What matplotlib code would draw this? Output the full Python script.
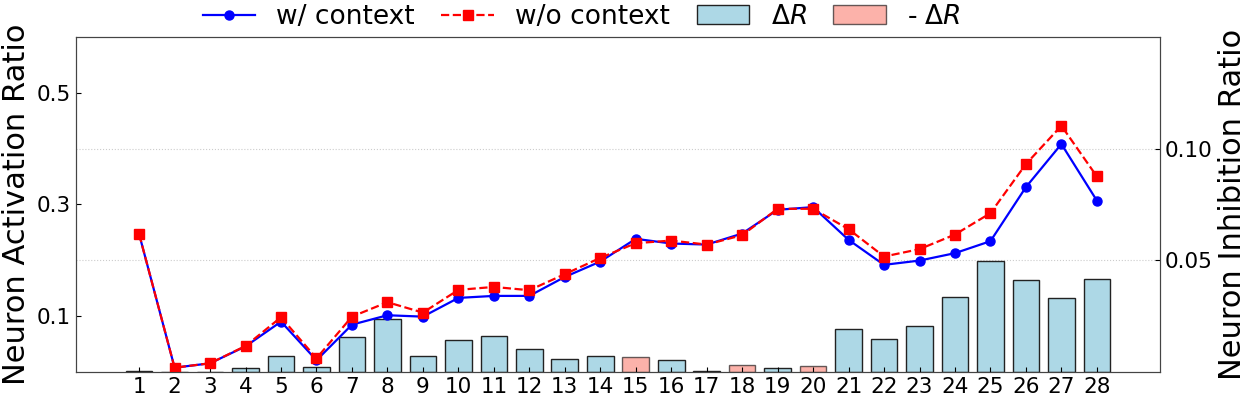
import matplotlib
matplotlib.use("Agg")
import matplotlib.pyplot as plt
from matplotlib.lines import Line2D
from matplotlib.patches import Patch
import numpy as np

layers = list(range(1, 29))
w_context = [0.2468, 0.0072, 0.0151, 0.0455, 0.0898, 0.0205, 0.0844, 0.1013, 0.0988,
             0.1324, 0.1360, 0.1360, 0.1700, 0.1976, 0.2384, 0.2300, 0.2281, 0.2479,
             0.2905, 0.2953, 0.2366, 0.1917, 0.1994, 0.2127, 0.2342, 0.3312, 0.4085,
             0.3070]
wo_context = [0.2468, 0.0072, 0.0151, 0.0462, 0.0977, 0.0240, 0.0988, 0.1247, 0.1060,
              0.1468, 0.1521, 0.1462, 0.1750, 0.2042, 0.2306, 0.2353, 0.2281, 0.2450,
              0.2923, 0.2923, 0.2558, 0.2066, 0.2199, 0.2461, 0.2845, 0.3725, 0.4413,
              0.3503]
delta_r = [0.0003, 0.0, 0.0, 0.0015, 0.0072, 0.0020, 0.0155, 0.0237, 0.0072,
           0.0144, 0.0162, 0.0101, 0.0056, 0.0069, -0.0065, 0.0051, 0.0003, -0.0029,
           0.0017, -0.0026, 0.0192, 0.0146, 0.0205, 0.0337, 0.0497, 0.0413, 0.0332,
           0.0418]
left_ticks = [0.1, 0.3, 0.5]
right_ticks = [0.05, 0.10]

fig = plt.figure(figsize=(12.46, 3.97), dpi=100)
ax = fig.add_axes([76/1246, 1-371.7/397, (1160-76)/1246, (371.7-37.3)/397])
ax2 = ax.twinx()

x = np.array(layers)
d = np.array(delta_r)
pos = d >= 0
ax2.bar(x[pos], d[pos], width=0.75, color='lightblue', edgecolor='#222222', linewidth=1.0)
ax2.bar(x[~pos], -d[~pos], width=0.75, color='salmon', alpha=0.6, edgecolor='black', linewidth=1.0)
ax2.set_ylim(0, 0.15)
ax2.set_yticks(right_ticks)
ax2.set_yticklabels(['0.05', '0.10'])
ax2.yaxis.grid(True, linestyle=':', color='#cccccc', linewidth=0.8)
ax2.set_axisbelow(True)
ax2.set_ylabel('Neuron Inhibition Ratio', fontsize=22)

ax.plot(x, w_context, color='blue', marker='o', markersize=6.5, linewidth=1.6, label='w/ context')
ax.plot(x, wo_context, color='red', marker='s', markersize=6.5, linewidth=1.6, linestyle='--', label='w/o context')
ax.set_ylim(0, 0.6)
ax.set_yticks(left_ticks)
ax.set_yticklabels(['0.1', '0.3', '0.5'])
ax.set_xlim(-0.78, 29.78)
ax.set_xticks(layers)
ax.set_xticklabels([str(v) for v in layers])
ax.set_ylabel('Neuron Activation Ratio', fontsize=22)
ax.set_zorder(ax2.get_zorder() + 1)
ax.patch.set_visible(False)

for a in (ax, ax2):
    a.tick_params(direction='in', labelsize=15.5, length=3.5)
    for s in a.spines.values():
        s.set_color('#444444')

handles = [Line2D([], [], color='blue', marker='o', markersize=6.5, linewidth=1.6),
           Line2D([], [], color='red', marker='s', markersize=6.5, linewidth=1.6, linestyle='--'),
           Patch(facecolor='lightblue', edgecolor='#222222'),
           Patch(facecolor='salmon', alpha=0.6, edgecolor='black')]
labels = ['w/ context', 'w/o context', r'$\Delta R$', r'- $\Delta R$']
fig.legend(handles, labels, loc='upper center', bbox_to_anchor=(0.4667, 1.05), ncol=4,
           frameon=False, fontsize=19, handlelength=2.0, handletextpad=0.8, columnspacing=1.0)

fig.savefig('out.png', dpi=100)
